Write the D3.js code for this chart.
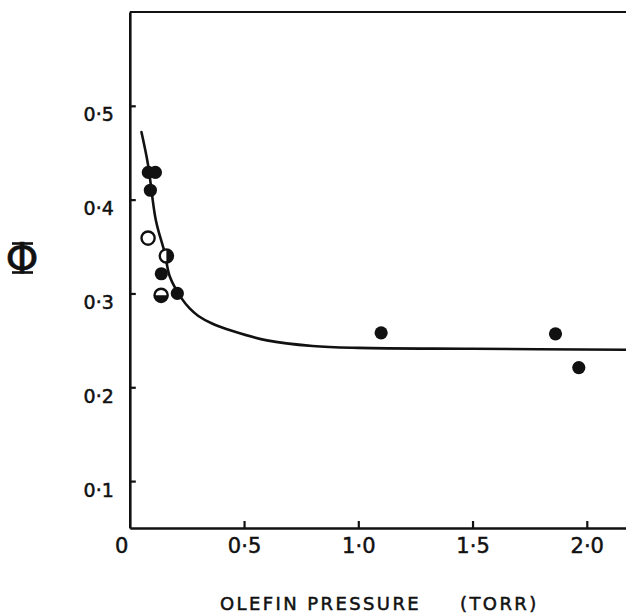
<!DOCTYPE html>
<html>
<head>
<meta charset="utf-8">
<script src="https://cdn.jsdelivr.net/npm/d3@7"></script>
<style>
  html, body { margin: 0; padding: 0; background: #fff; }
  svg { display: block; }
  .lbl { font-family: "DejaVu Sans", sans-serif; fill: #111; stroke: #111; stroke-width: 0.5px; }
</style>
</head>
<body>
<svg id="chart" width="626" height="616"></svg>
<script>
// Quantum yield versus olefin pressure
const filledX = [0.081, 0.112, 0.090, 0.138, 0.208, 1.10, 1.863, 1.965];
const filledY = [0.429, 0.429, 0.410, 0.321, 0.300, 0.258, 0.257, 0.221];

const openX = [0.080];
const openY = [0.359];

const halfX = [0.160, 0.137];
const halfY = [0.340, 0.298];
const halfSide = ["right", "bottom"];

// smooth curve drawn through the data
const curveX = [0.051, 0.080, 0.114, 0.153, 0.175, 0.226, 0.262, 0.30, 0.36, 0.45, 0.60, 0.80, 1.00, 1.50, 2.17];
const curveY = [0.472, 0.437, 0.378, 0.343, 0.318, 0.295, 0.284, 0.276, 0.268, 0.260, 0.250, 0.244, 0.242, 0.241, 0.240];

const xTicks = [0.5, 1.0, 1.5, 2.0];
const xTickLabels = ["0·5", "1·0", "1·5", "2·0"];
const yTicks = [0.1, 0.2, 0.3, 0.4, 0.5];
const yTickLabels = ["0·1", "0·2", "0·3", "0·4", "0·5"];

const svg = d3.select("#chart");
const plotLeft = 129.8, plotRight = 626, plotTop = 12, plotBottom = 528;

const x = d3.scaleLinear().domain([0, 2.1716]).range([plotLeft, plotRight]);
const y = d3.scaleLinear().domain([0.05, 0.60]).range([plotBottom, plotTop]);

// top frame line
svg.append("line")
  .attr("x1", plotLeft).attr("x2", plotRight).attr("y1", y(0.60)).attr("y2", y(0.60))
  .attr("stroke", "#111").attr("stroke-width", 2.2);

// x axis
const gx = svg.append("g").attr("transform", `translate(0,${plotBottom})`)
  .call(d3.axisBottom(x).tickValues(xTicks).tickSizeInner(-7).tickSizeOuter(0)
    .tickFormat((d, i) => xTickLabels[i]));
gx.select(".domain").attr("stroke", "#111").attr("stroke-width", 2.6);
gx.selectAll(".tick line").attr("stroke", "#111").attr("stroke-width", 2.2);
gx.selectAll(".tick text").attr("class", "lbl").attr("y", 25).attr("dy", null)
  .attr("font-size", 21);

// origin label
svg.append("text").attr("class", "lbl").attr("x", x(0) - 8).attr("y", plotBottom + 25)
  .attr("text-anchor", "middle").attr("font-size", 21).text("0");

// y axis
const gy = svg.append("g").attr("transform", `translate(${plotLeft},0)`)
  .call(d3.axisLeft(y).tickValues(yTicks).tickSizeInner(-6).tickSizeOuter(0)
    .tickFormat((d, i) => yTickLabels[i]));
gy.select(".domain").attr("stroke", "#111").attr("stroke-width", 2.6);
gy.selectAll(".tick line").attr("stroke", "#111").attr("stroke-width", 2.2);
gy.selectAll(".tick text").attr("class", "lbl").attr("x", -16).attr("dy", null)
  .attr("y", 15).attr("font-size", 19).attr("text-anchor", "end");

// fitted curve
const line = d3.line().x((d, i) => x(curveX[i])).y((d, i) => y(curveY[i]))
  .curve(d3.curveCatmullRom.alpha(0.5));
svg.append("path").datum(curveX).attr("d", line)
  .attr("fill", "none").attr("stroke", "#111").attr("stroke-width", 2.6)
  .attr("stroke-linecap", "round");

const r = 6.6;

// open symbols
svg.selectAll(".open").data(openX).join("circle").attr("class", "open")
  .attr("cx", d => x(d)).attr("cy", (d, i) => y(openY[i])).attr("r", r)
  .attr("fill", "#fff").attr("stroke", "#111").attr("stroke-width", 2.4);

// half-filled symbols
const halfArc = d3.arc().innerRadius(0).outerRadius(r);
const hg = svg.selectAll(".half").data(halfX).join("g").attr("class", "half")
  .attr("transform", (d, i) => `translate(${x(d)},${y(halfY[i])})`);
hg.append("circle").attr("r", r).attr("fill", "#fff")
  .attr("stroke", "#111").attr("stroke-width", 2.4);
hg.append("path").attr("fill", "#111").attr("d", (d, i) => halfSide[i] === "right"
  ? halfArc({startAngle: 0, endAngle: Math.PI})
  : halfArc({startAngle: Math.PI / 2, endAngle: 3 * Math.PI / 2}));

// filled symbols
svg.selectAll(".filled").data(filledX).join("circle").attr("class", "filled")
  .attr("cx", d => x(d)).attr("cy", (d, i) => y(filledY[i])).attr("r", r)
  .attr("fill", "#111");

// y title: barred phi
const phi = svg.append("g");
phi.append("text").attr("class", "lbl").attr("x", 22).attr("y", 258)
  .attr("text-anchor", "middle").attr("dominant-baseline", "central")
  .attr("font-family", "DejaVu Serif").attr("font-size", 42).attr("stroke-width", 0.3)
  .text("Φ");
phi.selectAll("line").data([243.5, 272.5]).join("line")
  .attr("x1", 12).attr("x2", 33).attr("y1", d => d).attr("y2", d => d)
  .attr("stroke", "#111").attr("stroke-width", 2.6);

// x title
const title = svg.append("text").attr("class", "lbl").attr("y", 610)
  .attr("font-size", 18).attr("letter-spacing", 2.4);
title.append("tspan").attr("x", 220).text("OLEFIN PRESSURE");
title.append("tspan").attr("x", 460).text("(TORR)");
</script>
</body>
</html>
